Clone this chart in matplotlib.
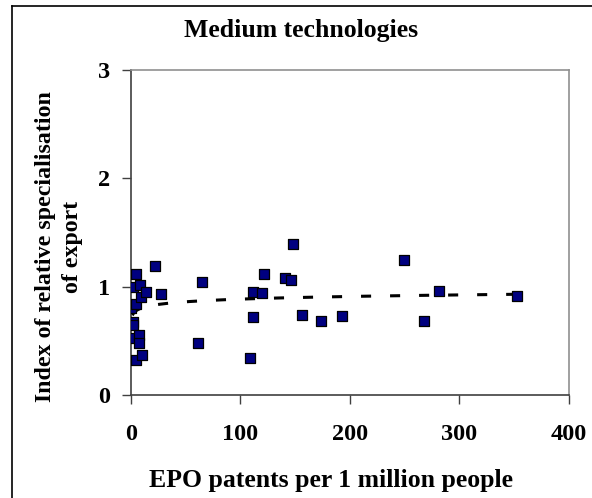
import numpy as np
import matplotlib.pyplot as plt
from matplotlib.lines import Line2D

plt.rcParams['font.family'] = ['Liberation Serif', 'DejaVu Serif']

# EPO patents per 1 million people vs. index of relative export specialisation
patents = [0.3, 2.1, 2.1, 2.1, 2.1, 4.6, 5.2, 5.2, 7.3, 7.3, 8.9, 9.5, 10.7,
           14.4, 22.0, 27.2, 61.5, 65.4, 108.9, 111.3, 111.3, 119.6, 122.0,
           141.0, 146.2, 148.3, 156.6, 173.7, 192.4, 249.5, 267.6, 281.4, 352.3]
index = [0.806, 1.0, 0.677, 0.646, 0.523, 0.320, 1.114, 0.837, 0.551, 0.483,
         1.02, 0.908, 0.372, 0.948, 1.194, 0.932, 0.477, 1.046, 0.342, 0.717,
         0.954, 0.939, 1.114, 1.077, 1.062, 1.391, 0.736, 0.686, 0.732, 1.244,
         0.686, 0.960, 0.914]

# logarithmic trend line y = a + b*ln(x)
trend_a = 0.721
trend_b = 0.0356

W, H = 592, 498
fig = plt.figure(figsize=(W / 100, H / 100), dpi=100)
ax = fig.add_axes([130.7 / W, 1 - 395 / H, (569 - 130.7) / W, (395 - 70) / H])

tx = np.linspace(1.5, 352, 400)
ax.plot(tx, trend_a + trend_b * np.log(tx), color='black', lw=2.2,
        dashes=(3.3, 6.2), zorder=2)
ax.scatter(patents, index, marker='s', s=44, facecolor='#000080',
           edgecolor='black', linewidth=0.9, zorder=3)

ax.set_xlim(0, 400)
ax.set_ylim(0, 3)
ax.set_xticks([0, 100, 200, 300, 400])
ax.set_yticks([0, 1, 2, 3])
ax.tick_params(axis='both', labelsize=17.5, direction='out', length=6.5,
               width=1, color='#404040')
ax.tick_params(axis='x', pad=14.5)
ax.tick_params(axis='y', pad=8.5)
for lab in ax.get_xticklabels() + ax.get_yticklabels():
    lab.set_fontweight('bold')

ax.spines['left'].set_color('#404040')
ax.spines['bottom'].set_color('#404040')
ax.spines['top'].set_color('#909090')
ax.spines['right'].set_color('#909090')
for s in ax.spines.values():
    s.set_linewidth(1.2)

fig.text(301 / W, 1 - 37 / H, 'Medium technologies', fontsize=18.5,
         fontweight='bold', ha='center', va='baseline')
fig.text(331 / W, 1 - 487 / H, 'EPO patents per 1 million people',
         fontsize=18.5, fontweight='bold', ha='center', va='baseline')
fig.text(59 / W, 1 - 247 / H, 'Index of relative specialisation\nof export',
         fontsize=17.2, fontweight='bold', rotation=90, ha='center',
         va='center', multialignment='center', linespacing=1.35)

# outer chart frame
fig.add_artist(Line2D([12.3 / W, 12.3 / W], [0, 1 - 5.7 / H], color='black', lw=1.2))
fig.add_artist(Line2D([12.3 / W, 1], [1 - 5.7 / H, 1 - 5.7 / H], color='black', lw=1.2))

fig.savefig('out.png', dpi=100)
